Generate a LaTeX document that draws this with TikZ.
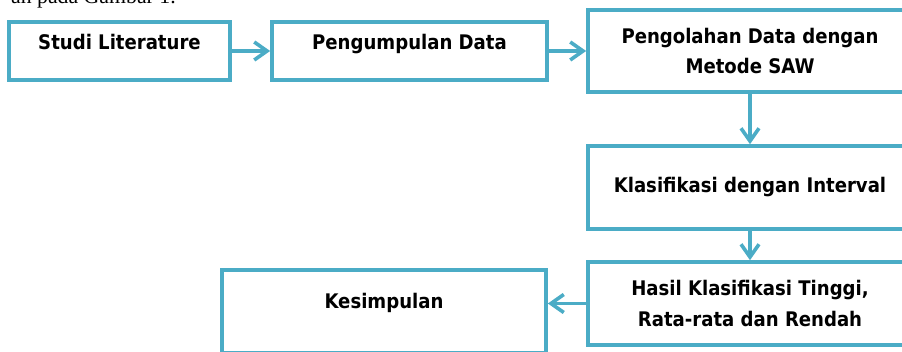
\documentclass[tikz,border=0pt]{standalone}
\usepackage{fontspec}
\usepackage{tikz}
\usepackage{xcolor}
\usetikzlibrary{arrows.meta}
\setmainfont{Liberation Serif}
\newfontfamily\flowfont{DejaVu Sans Condensed}
\definecolor{flowblue}{HTML}{4BACC6}
\begin{document}
\begin{tikzpicture}[x=0.025cm,y=-0.025cm,
flowbox/.style={draw=flowblue,line width=0.09cm,align=center,inner sep=0pt,text=black,font=\flowfont\bfseries\fontsize{14.3}{22}\selectfont},
flowarrow/.style={draw=flowblue,line width=0.09cm,-{Straight Barb[length=0.32cm,width=0.45cm]}}]
\useasboundingbox (0,0) rectangle (902,352);
\clip (0,0) rectangle (902,352);
\node[anchor=base east,inner sep=0pt,font=\fontsize{15.5}{18}\selectfont] (gambar) at (176,4) {an pada Gambar 1.};
\node[flowbox,minimum width=5.525cm,minimum height=1.45cm,text height=0.38cm,text depth=0.45cm] (studi) at (119.5,51) {Studi Literature};
\node[flowbox,minimum width=6.875cm,minimum height=1.45cm,text height=0.38cm,text depth=0.45cm] (pengumpulan) at (409.5,51) {Pengumpulan Data};
\node[flowbox,minimum width=8.1cm,minimum height=2.05cm] (pengolahan) at (750,51) {Pengolahan Data dengan\\Metode SAW};
\node[flowbox,minimum width=8.1cm,minimum height=2.075cm] (klasifikasi) at (750,187.5) {Klasifikasi dengan Interval};
\node[flowbox,minimum width=8.1cm,minimum height=2.075cm] (hasil) at (750,303.5) {Hasil Klasifikasi Tinggi,\\Rata-rata dan Rendah};
\node[flowbox,minimum width=8.1cm,minimum height=2.075cm,text height=0.38cm,text depth=0.52cm] (kesimpulan) at (384,311.5) {Kesimpulan};
\draw[flowarrow] (studi) -- (pengumpulan);
\draw[flowarrow] (pengumpulan) -- (pengolahan);
\draw[flowarrow] (pengolahan) -- (klasifikasi);
\draw[flowarrow] (klasifikasi) -- (hasil);
\draw[flowarrow] (hasil.west) -- (hasil.west -| kesimpulan.east);
\end{tikzpicture}
\end{document}
